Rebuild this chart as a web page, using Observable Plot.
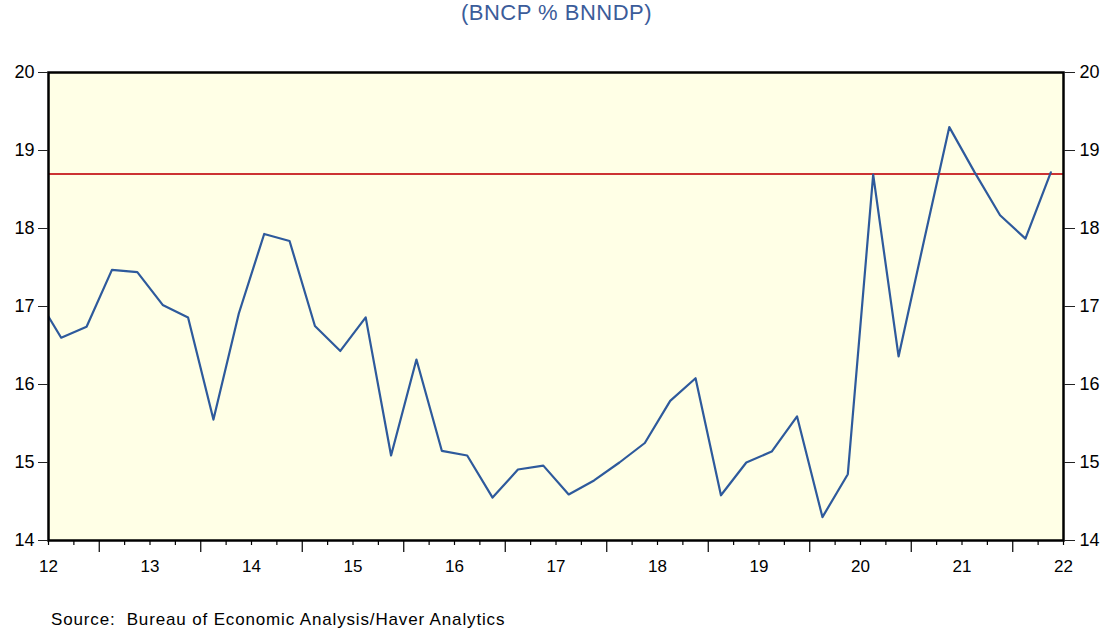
<!DOCTYPE html>
<html><head><meta charset="utf-8">
<script src="https://cdn.jsdelivr.net/npm/d3@7"></script>
<script src="https://cdn.jsdelivr.net/npm/@observablehq/plot@0.6"></script>
<style>
body{margin:0;background:#fff;font-family:"Liberation Sans",Arial,sans-serif;}
#wrap{position:relative;width:1113px;height:628px;overflow:hidden}
#chart{position:absolute;left:0;top:0}
#title{position:absolute;left:0;width:1113px;top:0;text-align:center;font-size:22px;color:#3B5C9A;line-height:26px;white-space:pre;letter-spacing:0.5px}
#source{position:absolute;left:51px;top:611px;font-size:17px;color:#000;line-height:18px;white-space:pre;letter-spacing:0.85px}
</style></head><body>
<div id="wrap"><div id="chart"></div><div id="title">(BNCP % BNNDP)</div><div id="source">Source:  Bureau of Economic Analysis/Haver Analytics</div></div>
<script>
// Quarterly periods (year, quarter), starting 2011Q4 (clipped at the left edge)
const years    = [2011, 2012,2012,2012,2012, 2013,2013,2013,2013, 2014,2014,2014,2014, 2015,2015,2015,2015, 2016,2016,2016,2016, 2017,2017,2017,2017, 2018,2018,2018,2018, 2019,2019,2019,2019, 2020,2020,2020,2020, 2021,2021,2021,2021];
const quarters = [4, 1,2,3,4, 1,2,3,4, 1,2,3,4, 1,2,3,4, 1,2,3,4, 1,2,3,4, 1,2,3,4, 1,2,3,4, 1,2,3,4, 1,2,3,4];
const values   = [17.14,
  16.60,16.74,17.47,17.44,
  17.02,16.86,15.55,16.91,
  17.93,17.84,16.75,16.43,
  16.86,15.09,16.32,15.15,
  15.09,14.55,14.91,14.96,
  14.59,14.77,15.00,15.25,
  15.79,16.08,14.58,15.00,
  15.14,15.59,14.30,14.85,
  18.69,16.36,17.84,19.30,
  18.72,18.17,17.87,18.72];
const referenceLevel = 18.70;
const yTicks = [14,15,16,17,18,19,20];
const xLabelYears = [12,13,14,15,16,17,18,19,20,21,22];

// Each quarter plotted at its middle, on an axis in two-digit years
const data = values.map((v, i) => ({x: (years[i] - 2000) + (quarters[i] - 0.5) / 4, v}));
const quarterTicks = d3.range(0, 41).map(i => 12 + i / 4).filter(t => t % 1 !== 0.5);
const midYearTicks = d3.range(12, 22).map(y => y + 0.5);

const chart = Plot.plot({
  width: 1113, height: 628,
  marginLeft: 48, marginRight: 50, marginTop: 72, marginBottom: 88,
  style: {fontFamily: '"Liberation Sans", Arial, sans-serif', fontSize: "17px", color: "#000", background: "transparent"},
  x: {domain: [12, 22]},
  y: {domain: [14, 20]},
  marks: [
    Plot.frame({fill: "#FFFFE6", stroke: null}),
    Plot.ruleY([referenceLevel], {stroke: "#CC3333", strokeWidth: 2}),
    Plot.line(data, {x: "x", y: "v", stroke: "#2E5A9C", strokeWidth: 2.2, clip: true}),
    Plot.frame({stroke: "#000", strokeWidth: 2.5}),
    Plot.axisY(yTicks, {anchor: "left", tickSize: 10, tickPadding: 4, label: null, stroke: "#222", fontSize: 18, tickFormat: d => String(d)}),
    Plot.axisY(yTicks, {anchor: "right", tickSize: 11, tickPadding: 5, label: null, stroke: "#222", fontSize: 18, tickFormat: d => String(d)}),
    Plot.axisX(quarterTicks, {anchor: "bottom", tickSize: 5, tickFormat: () => "", label: null, stroke: "#000", strokeWidth: 1.2}),
    Plot.axisX(midYearTicks, {anchor: "bottom", tickSize: 12, tickFormat: () => "", label: null, stroke: "#000", strokeWidth: 1.2}),
    Plot.axisX(xLabelYears, {anchor: "bottom", tickSize: 0, tickPadding: 19, tickFormat: d => String(d), label: null, fontSize: 17})
  ]
});
document.getElementById("chart").appendChild(chart);
</script>
</body></html>
